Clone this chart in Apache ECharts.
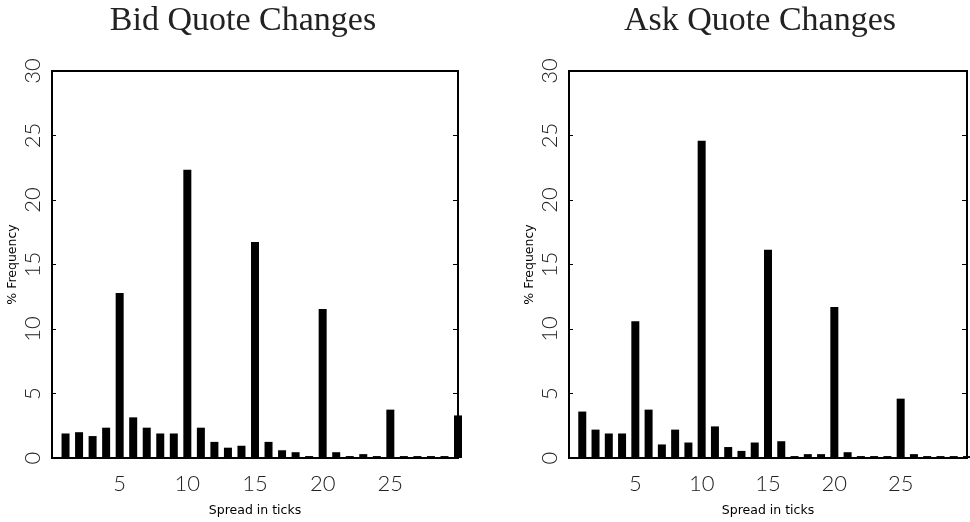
<!DOCTYPE html>
<html>
<head>
<meta charset="utf-8">
<script src="https://cdn.jsdelivr.net/npm/echarts@6/dist/echarts.min.js"></script>
<style>
html,body{margin:0;padding:0;background:#fff;}
#chart{width:970px;height:522px;}
</style>
</head>
<body>
<div id="chart"></div>
<script>
// Spread in ticks (x positions of bars)
var spreadTicks = [1,2,3,4,5,6,7,8,9,10,11,12,13,14,15,16,17,18,19,20,21,22,23,24,25,26,27,28,29,30];
// % frequency of bid quote changes
var bidValues = [1.9,2.0,1.7,2.35,12.8,3.15,2.35,1.9,1.9,22.35,2.35,1.25,0.8,0.95,16.75,1.25,0.6,0.45,0.15,11.55,0.45,0.15,0.3,0.15,3.75,0.15,0.15,0.15,0.15,3.3];
// % frequency of ask quote changes
var askValues = [3.6,2.2,1.9,1.9,10.6,3.75,1.05,2.2,1.2,24.6,2.45,0.85,0.55,1.2,16.15,1.3,0.15,0.3,0.3,11.7,0.45,0.15,0.15,0.15,4.6,0.3,0.15,0.15,0.15,0.15];
var titles = ['Bid Quote Changes','Ask Quote Changes'];
var xName = 'Spread in ticks';
var yName = '% Frequency';
var xTickLabels = ['5','10','15','20','25'];
var yTickLabels = ['0','5','10','15','20','25','30'];

function pairs(vals){ return spreadTicks.map(function(x,i){ return [x, vals[i]]; }); }

var chart = echarts.init(document.getElementById('chart'), null, {renderer:'canvas'});
var gridLefts = [52, 569];
var tickFont = {fontFamily:'Lato, "DejaVu Sans", sans-serif', fontWeight:300, fontSize:22, color:'#222'};

var grids = [], xAxes = [], yAxes = [], series = [], graphics = [];
[bidValues, askValues].forEach(function(vals, k){
  grids.push({left:gridLefts[k], top:71, width:406, height:389, show:true, borderColor:'#000', borderWidth:2, backgroundColor:'transparent'});
  xAxes.push({
    type:'value', gridIndex:k, min:0, max:30, interval:5,
    name:xName, nameLocation:'middle', nameGap:46,
    nameTextStyle:{fontFamily:'"DejaVu Sans", sans-serif', fontSize:12.5, color:'#000'},
    axisLine:{show:false}, axisTick:{show:false}, splitLine:{show:false},
    axisLabel:Object.assign({margin:15, formatter:function(v){ return xTickLabels.indexOf(String(v))>=0 ? String(v) : ''; }}, tickFont)
  });
  yAxes.push({
    type:'value', gridIndex:k, min:0, max:30, interval:5,
    name:yName, nameLocation:'middle', nameGap:33, nameRotate:90,
    nameTextStyle:{fontFamily:'"DejaVu Sans", sans-serif', fontSize:12.5, color:'#000'},
    axisLine:{show:false}, axisTick:{show:true, inside:true, length:4, lineStyle:{color:'#000', width:1}}, splitLine:{show:false},
    axisLabel:Object.assign({margin:8, rotate:90, formatter:function(v){ return yTickLabels.indexOf(String(v))>=0 ? String(v) : ''; }}, tickFont)
  });
  yAxes.push({
    type:'value', gridIndex:k, min:0, max:30, interval:5, position:'right',
    axisLine:{show:false}, axisTick:{show:true, inside:true, length:5, lineStyle:{color:'#000', width:1}},
    splitLine:{show:false}, axisLabel:{show:false}
  });
  series.push({
    type:'bar', xAxisIndex:k, yAxisIndex:2*k, data:pairs(vals), barWidth:8,
    itemStyle:{color:'#000'}, clip:true, silent:true, animation:false
  });
  graphics.push({
    type:'text', x:gridLefts[k]+203-12, y:21,
    style:{text:titles[k], fontFamily:'"Liberation Serif", "DejaVu Serif", serif', fontSize:34, fill:'#222', align:'center', verticalAlign:'middle'}
  });
});

chart.setOption({
  animation:false,
  backgroundColor:'#fff',
  grid:grids, xAxis:xAxes, yAxis:yAxes, series:series, graphic:graphics
});
</script>
</body>
</html>
